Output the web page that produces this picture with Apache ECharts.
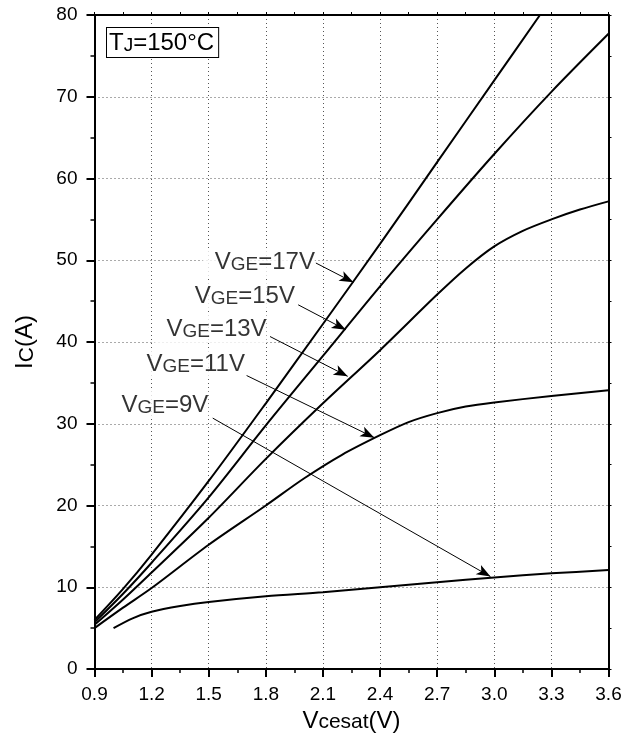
<!DOCTYPE html>
<html><head><meta charset="utf-8">
<script src="https://cdn.jsdelivr.net/npm/echarts@6.0.0/dist/echarts.min.js"></script>
<style>html,body{margin:0;padding:0;background:#fff}#c{width:634px;height:746px}</style>
</head><body><div id="c"></div>
<script>
// ---- data ----
const vge17_V = [0.9, 1.05, 1.2, 1.5, 1.8, 2.1, 2.4, 2.7, 3.0, 3.24];
const vge17_I = [6.0, 9.8, 14.0, 23.0, 32.5, 42.2, 52.0, 62.0, 72.0, 80.0];
const vge15_V = [0.9, 1.05, 1.2, 1.5, 1.8, 2.1, 2.4, 2.7, 3.0, 3.3, 3.6];
const vge15_I = [5.7, 9.2, 13.0, 21.0, 29.8, 38.3, 46.8, 55.0, 63.0, 70.6, 77.7];
const vge13_V = [0.9, 1.05, 1.2, 1.5, 1.8, 2.1, 2.4, 2.7, 2.85, 3.0, 3.15, 3.3, 3.45, 3.6];
const vge13_I = [5.4, 8.5, 11.8, 18.5, 25.7, 32.5, 39.0, 45.8, 49.0, 51.7, 53.6, 55.0, 56.2, 57.2];
const vge11_V = [0.9, 1.05, 1.2, 1.5, 1.8, 2.0, 2.2, 2.4, 2.55, 2.7, 2.85, 3.0, 3.3, 3.6];
const vge11_I = [5.0, 7.5, 9.9, 15.2, 20.0, 23.3, 26.2, 28.6, 30.2, 31.3, 32.1, 32.6, 33.4, 34.1];
const vge9_V  = [1.0, 1.1, 1.2, 1.35, 1.5, 1.8, 2.1, 2.4, 2.7, 3.0, 3.3, 3.6];
const vge9_I  = [5.0, 6.2, 7.0, 7.7, 8.2, 8.9, 9.4, 10.0, 10.6, 11.2, 11.7, 12.1];

const curveNames = ['17V', '15V', '13V', '11V', '9V'];
// annotation anchors (data units)
const labelV     = [2.058, 1.953, 1.804, 1.690, 1.498];
const labelI     = [49.7, 45.6, 41.6, 37.3, 32.3];
const arrowFromV = [2.063, 1.970, 1.822, 1.699, 1.521];
const arrowFromI = [49.66, 44.55, 40.67, 35.90, 30.69];
const arrowToV   = [2.26, 2.22, 2.23, 2.37, 2.98];
const arrowToI   = [47.3, 41.5, 35.8, 28.3, 11.3];

const xMin = 0.9, xMax = 3.6, xStep = 0.3;
const yMin = 0, yMax = 80, yStep = 10;

// ---- chart ----
const FONT = 'Liberation Sans, Arial, Helvetica, sans-serif';
const pairs = (xs, ys) => xs.map((x, i) => [x, ys[i]]);
const curves = [[vge17_V, vge17_I], [vge15_V, vge15_I], [vge13_V, vge13_I], [vge11_V, vge11_I], [vge9_V, vge9_I]];

const richBig = { fontSize: 24, lineHeight: 24, fontFamily: FONT, color: '#000', verticalAlign: 'bottom' };
const richSmall = { fontSize: 19, lineHeight: 19, fontFamily: FONT, color: '#000', verticalAlign: 'bottom' };
const titleRich = {
  b: Object.assign({}, richBig, { fontSize: 24, lineHeight: 24 }),
  s: Object.assign({}, richSmall, { fontSize: 21, lineHeight: 21 })
};

const chart = echarts.init(document.getElementById('c'), null, { renderer: 'canvas' });

const axisCommon = {
  axisLine: { show: true, onZero: false, lineStyle: { color: '#000', width: 2 } },
  axisTick: { show: true, inside: false, length: 8, lineStyle: { color: '#000', width: 2 } },
  minorTick: { show: true, splitNumber: 2, length: 4, lineStyle: { color: '#000', width: 1.5 } },
  axisLabel: { show: true, color: '#000', fontSize: 19, fontFamily: FONT, showMinLabel: true, showMaxLabel: true },
  splitLine: { show: true, lineStyle: { color: '#555', type: [1, 3], width: 1 } },
  minorSplitLine: { show: false }
};
const axisFrame = {
  axisLine: { show: true, onZero: false, lineStyle: { color: '#000', width: 2 } },
  axisTick: { show: true, inside: false, length: 3, lineStyle: { color: '#000', width: 1 } },
  minorTick: { show: true, splitNumber: 2, length: 3, lineStyle: { color: '#000', width: 1 } },
  axisLabel: { show: false },
  splitLine: { show: false }
};

const option = {
  backgroundColor: '#fff',
  animation: false,
  grid: { left: 94.5, right: 25.5, top: 15, bottom: 77, containLabel: false, outerBoundsMode: 'none' },
  xAxis: [
    Object.assign({
      type: 'value', position: 'bottom', min: xMin, max: xMax, interval: xStep,
      name: '{b|V}{s|cesat}{b|(V)}', nameLocation: 'middle', nameGap: 32,
      nameTextStyle: { rich: titleRich }
    }, axisCommon, {
      axisLabel: Object.assign({}, axisCommon.axisLabel, { margin: 16, formatter: v => v.toFixed(1) })
    }),
    Object.assign({ type: 'value', position: 'top', min: xMin, max: xMax, interval: xStep }, axisFrame)
  ],
  yAxis: [
    Object.assign({
      type: 'value', position: 'left', min: yMin, max: yMax, interval: yStep,
      name: '{b|I}{s|C}{b|(A)}', nameLocation: 'middle', nameGap: 57,
      nameTextStyle: { rich: titleRich }
    }, axisCommon, {
      axisLabel: Object.assign({}, axisCommon.axisLabel, { margin: 17 })
    }),
    Object.assign({ type: 'value', position: 'right', min: yMin, max: yMax, interval: yStep }, axisFrame)
  ],
  series: curves.map((c, k) => ({
    type: 'line', name: 'VGE=' + curveNames[k], data: pairs(c[0], c[1]),
    smooth: 0.3, symbol: 'none', showSymbol: false, clip: true, z: 3,
    lineStyle: { color: '#000', width: 2 }
  })).concat([{
    type: 'scatter', name: 'labels', z: 2, symbolSize: 0, silent: true,
    data: labelV.map((v, i) => ({ value: [v, labelI[i]], name: curveNames[i] })),
    label: {
      show: true, position: 'left', distance: 0,
      backgroundColor: '#fff', padding: [2, 0, 2, 12],
      formatter: p => '{b|V}{s|GE}{b|=' + p.name + '}',
      rich: { b: richBig, s: richSmall }
    },
    markLine: {
      silent: true, animation: false,
      symbol: ['none', 'arrow'], symbolSize: [8, 14],
      lineStyle: { color: '#000', width: 1, type: 'solid' },
      label: { show: false },
      emphasis: { disabled: true },
      data: arrowFromV.map((v, i) => [
        { coord: [v, arrowFromI[i]] },
        { coord: [arrowToV[i], arrowToI[i]] }
      ])
    }
  }]),
  graphic: [{
    type: 'text', left: 106, top: 27, z: 10,
    style: {
      text: '{b|T}{s|J}{b|=150°C}',
      rich: { b: richBig, s: richSmall },
      backgroundColor: '#fff', borderColor: '#000', borderWidth: 1, padding: [3, 4, 2, 2]
    }
  }]
};
chart.setOption(option);
</script>
</body></html>
